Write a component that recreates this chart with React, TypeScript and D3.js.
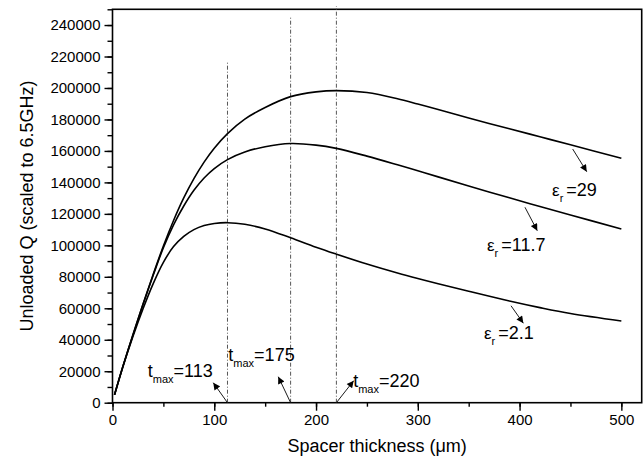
import React, { useRef, useEffect } from "react";
import * as d3 from "d3";

// spacer thickness (um) sampled along the curves
const thickness = [2, 10, 20, 30, 40, 50, 60, 70, 80, 90, 100, 113, 130, 150, 175, 200, 220, 250, 280, 300, 320, 350, 390, 420, 450, 500];
const qEr29 = [5000, 22600, 43100, 62600, 81600, 99600, 115800, 130100, 142400, 152900, 161700, 171000, 180200, 187600, 194500, 197500, 198300, 197100, 193200, 189800, 186300, 180900, 174100, 169000, 163900, 155400];
const qEr117 = [5000, 22500, 42800, 62500, 81000, 98500, 113000, 125000, 135000, 142800, 148800, 154500, 159300, 162700, 164700, 163700, 161600, 156700, 151200, 147400, 143500, 137700, 130200, 124700, 119300, 110400];
const qEr21 = [5000, 22400, 41900, 59700, 75700, 89200, 99200, 105700, 110000, 112600, 113900, 114400, 113400, 110400, 104800, 98800, 94400, 88100, 82400, 78900, 75600, 70800, 64600, 60400, 56650, 51900];

// t_max markers
const tmax = [113, 175, 220];
const tmaxTop = [217000, 245000, 252000];
const tmaxLabelAt = [[34.6, 16500], [113.8, 26700], [236.5, 10200]];
const tmaxArrowTip = [[99, 12700], [162.9, 16500], [237, 14000]];

// epsilon_r labels
const erLabels = ["29", "11.7", "2.1"];
const erLabelAt = [[431.9, 131400], [368, 96400], [365, 40300]];
const erArrowFrom = [[452.2, 161200], [405.3, 124200], [391.6, 61600]];
const erArrowTip = [[466, 146800], [417.4, 109300], [403.7, 50500]];

const xTicks = [0, 100, 200, 300, 400, 500];
const yTicks = d3.range(0, 240001, 20000);

export default function App() {
  const svgRef = useRef<SVGSVGElement>(null);

  useEffect(() => {
    document.body.style.margin = "0";
    const width = 644, height = 459;
    const m = { left: 112.5, top: 9.3, right: 2.3, bottom: 56.3 };
    const svg = d3.select(svgRef.current);
    svg.selectAll("*").remove();

    const x = d3.scaleLinear().domain([0, 520]).range([m.left, width - m.right]);
    const y = d3.scaleLinear().domain([0, 250000]).range([height - m.bottom, m.top]);

    svg.append("defs").append("marker")
      .attr("id", "head")
      .attr("viewBox", "0 0 10 10")
      .attr("refX", 10).attr("refY", 5)
      .attr("markerWidth", 9).attr("markerHeight", 7)
      .attr("markerUnits", "userSpaceOnUse")
      .attr("orient", "auto")
      .append("path").attr("d", "M0,0L10,5L0,10z").attr("fill", "#000");

    const font = "'Liberation Sans', Arial, sans-serif";

    // minor ticks
    svg.append("g")
      .attr("transform", `translate(${m.left},0)`)
      .call(d3.axisLeft(y).tickValues(d3.range(0, 250001, 10000)).tickSize(5).tickFormat(() => ""))
      .call(g => g.select(".domain").remove())
      .selectAll("line").attr("stroke-width", 1.4);
    svg.append("g")
      .attr("transform", `translate(0,${height - m.bottom})`)
      .call(d3.axisBottom(x).tickValues(d3.range(0, 501, 50)).tickSize(4).tickFormat(() => ""))
      .call(g => g.select(".domain").remove())
      .selectAll("line").attr("stroke-width", 1.4);

    // major ticks + labels
    const yAxis = svg.append("g")
      .attr("transform", `translate(${m.left},0)`)
      .call(d3.axisLeft(y).tickValues(yTicks).tickSize(8).tickPadding(4).tickFormat(d3.format("d")));
    yAxis.select(".domain").remove();
    yAxis.selectAll("line").attr("stroke-width", 1.4);
    yAxis.selectAll("text").style("font-size", "15px").style("font-family", font).attr("fill", "#000");

    const xAxis = svg.append("g")
      .attr("transform", `translate(0,${height - m.bottom})`)
      .call(d3.axisBottom(x).tickValues(xTicks).tickSize(8).tickPadding(4).tickFormat(d3.format("d")));
    xAxis.select(".domain").remove();
    xAxis.selectAll("line").attr("stroke-width", 1.4);
    xAxis.selectAll("text").style("font-size", "15px").style("font-family", font).attr("fill", "#000");

    // frame
    svg.append("rect")
      .attr("x", x(0)).attr("y", y(250000))
      .attr("width", x(520) - x(0)).attr("height", y(0) - y(250000))
      .attr("fill", "none").attr("stroke", "#000").attr("stroke-width", 1.6);

    // t_max lines
    svg.selectAll(".tline")
      .data(tmax)
      .join("line")
      .attr("class", "tline")
      .attr("x1", d => x(d)).attr("x2", d => x(d))
      .attr("y1", y(0)).attr("y2", (d, i) => y(tmaxTop[i]))
      .attr("stroke", "#444").attr("stroke-width", 0.9)
      .attr("stroke-dasharray", "4 2 1 2");

    // curves
    const line = d3.line<number>()
      .x((d, i) => x(thickness[i]))
      .y(d => y(d))
      .curve(d3.curveCatmullRom.alpha(0.5));
    svg.selectAll(".curve")
      .data([qEr29, qEr117, qEr21])
      .join("path")
      .attr("class", "curve")
      .attr("d", d => line(d))
      .attr("fill", "none").attr("stroke", "#000").attr("stroke-width", 1.6);

    // arrows
    const arrows = [
      ...tmax.map((t, i) => [[t, 0], tmaxArrowTip[i]]),
      ...erArrowFrom.map((p, i) => [p, erArrowTip[i]]),
    ];
    svg.selectAll(".arrow")
      .data(arrows)
      .join("line")
      .attr("class", "arrow")
      .attr("x1", d => x(d[0][0])).attr("y1", d => y(d[0][1]))
      .attr("x2", d => x(d[1][0])).attr("y2", d => y(d[1][1]))
      .attr("stroke", "#000").attr("stroke-width", 0.9)
      .attr("marker-end", "url(#head)");

    // t_max labels
    tmax.forEach((t, i) => {
      const txt = svg.append("text")
        .attr("x", x(tmaxLabelAt[i][0])).attr("y", y(tmaxLabelAt[i][1]))
        .style("font-family", font).style("font-size", "18px");
      txt.append("tspan").text("t");
      txt.append("tspan").attr("dy", 6).style("font-size", "11px").text("max");
      txt.append("tspan").attr("dy", -6).text("=" + t);
    });

    // epsilon labels
    erLabels.forEach((lab, i) => {
      const txt = svg.append("text")
        .attr("x", x(erLabelAt[i][0])).attr("y", y(erLabelAt[i][1]))
        .style("font-family", font).style("font-size", "17px");
      txt.append("tspan").text("ε");
      txt.append("tspan").attr("dy", 6).style("font-size", "11px").text("r");
      txt.append("tspan").attr("dy", -6).attr("dx", 3).style("font-size", "18px").text("=" + lab);
    });

    // axis titles
    svg.append("text")
      .attr("x", (x(0) + x(520)) / 2).attr("y", 452)
      .attr("text-anchor", "middle")
      .style("font-family", font).style("font-size", "18px")
      .text("Spacer thickness (μm)");
    svg.append("text")
      .attr("transform", `translate(33,${(y(0) + y(250000)) / 2}) rotate(-90)`)
      .attr("text-anchor", "middle")
      .style("font-family", font).style("font-size", "18px")
      .text("Unloaded Q (scaled to 6.5GHz)");
  }, []);

  return <svg ref={svgRef} width={644} height={459} style={{ display: "block" }} />;
}
